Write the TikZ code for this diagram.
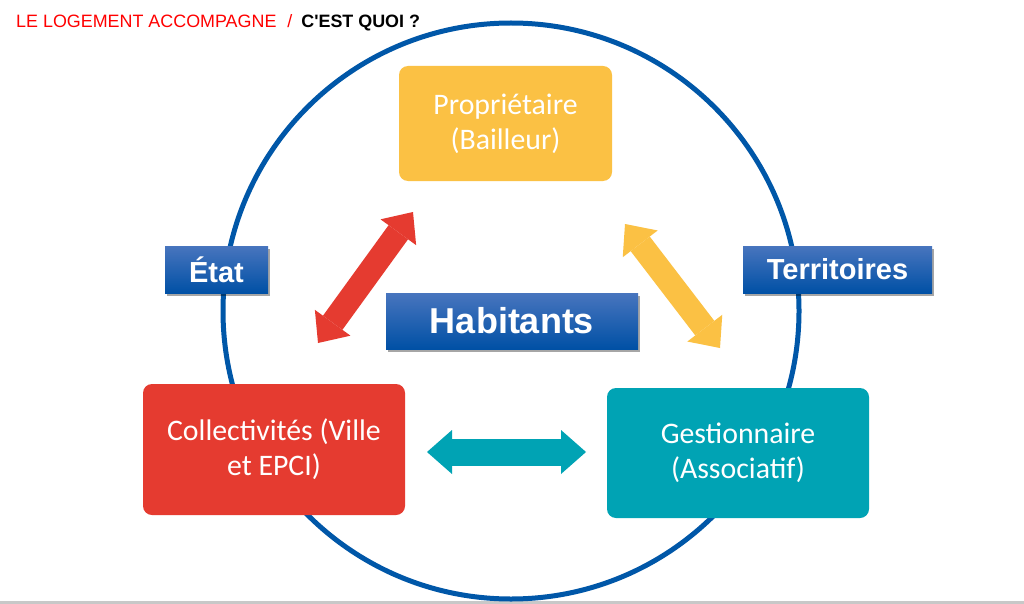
\documentclass[tikz,border=0pt]{standalone}
\usepackage{fontspec}
\setmainfont{Carlito}
\newfontfamily\arialf{Liberation Sans}
\usetikzlibrary{arrows.meta,shadows}
\definecolor{cblue}{RGB}{0,87,168}
\definecolor{cyel}{RGB}{251,193,68}
\definecolor{cred}{RGB}{229,59,48}
\definecolor{cteal}{RGB}{0,163,180}
\definecolor{btop}{RGB}{72,117,190}
\definecolor{bbot}{RGB}{0,80,165}
\definecolor{cgray}{RGB}{200,200,200}
\definecolor{tred}{RGB}{255,0,0}
\tikzset{
  actor/.style={rounded corners=9pt, text=white, align=center, inner sep=0pt,
    font=\fontsize{29.8}{35}\selectfont},
  tag/.style={top color=btop, bottom color=bbot, text=white, inner sep=0pt,
    font=\arialf\bfseries\fontsize{29}{34}\selectfont,
    drop shadow={shadow xshift=2pt, shadow yshift=-3pt, opacity=0.35, fill=black}},
  biarrow/.style={line width=24pt, draw=#1,
    {Triangle[width=44pt,length=25pt,line width=0pt]}-{Triangle[width=44pt,length=25pt,line width=0pt]}}
}
\begin{document}
\begin{tikzpicture}[x=1pt,y=-1pt]
\useasboundingbox (0,0) rectangle (1024,604);
\fill[white] (0,0) rectangle (1024,604);
\fill[cgray] (0,601) rectangle (1024,604);
% title
\node[anchor=base west, inner sep=0pt, font=\arialf\fontsize{17.9}{20}\selectfont] (title) at (16,28)
  {\textcolor{tred}{LE LOGEMENT ACCOMPAGNE\hspace{11pt}/\hspace{9pt}}\textbf{C'EST QUOI ?}};
% circle
\node[draw=cblue, line width=5pt, circle, minimum size=576pt, inner sep=0pt] (ring) at (511,311) {};
% actor boxes
\node[actor, fill=cyel, minimum width=213pt, minimum height=115pt] (prop) at (505.5,123.5) {Propriétaire\\(Bailleur)};
\node[actor, fill=cred, minimum width=262pt, minimum height=131pt] (coll) at (274,449.5) {Collectivités (Ville\\et EPCI)};
\node[actor, fill=cteal, minimum width=262pt, minimum height=130pt] (gest) at (738,453) {Gestionnaire\\(Associatif)};
% tags
\node[tag, minimum width=103pt, minimum height=47pt] (etat) at (216.5,269.5) {État};
\node[tag, minimum width=189pt, minimum height=47pt] (terr) at (837.5,269.5) {Territoires};
\node[tag, minimum width=252pt, minimum height=56pt, font=\arialf\bfseries\fontsize{36}{40}\selectfont] (hab) at (512,321) {Habitants};
% arrows
\coordinate (a1) at (318,343);
\coordinate (a2) at (413,212);
\coordinate (b1) at (625,224);
\coordinate (b2) at (720,348);
\coordinate (c1) at (427,452);
\coordinate (c2) at (586,452);
\draw[biarrow=cred] (a1) -- (a2);
\draw[biarrow=cyel] (b1) -- (b2);
\draw[biarrow=cteal, line width=27pt] (c1) -- (c2);
\end{tikzpicture}
\end{document}
